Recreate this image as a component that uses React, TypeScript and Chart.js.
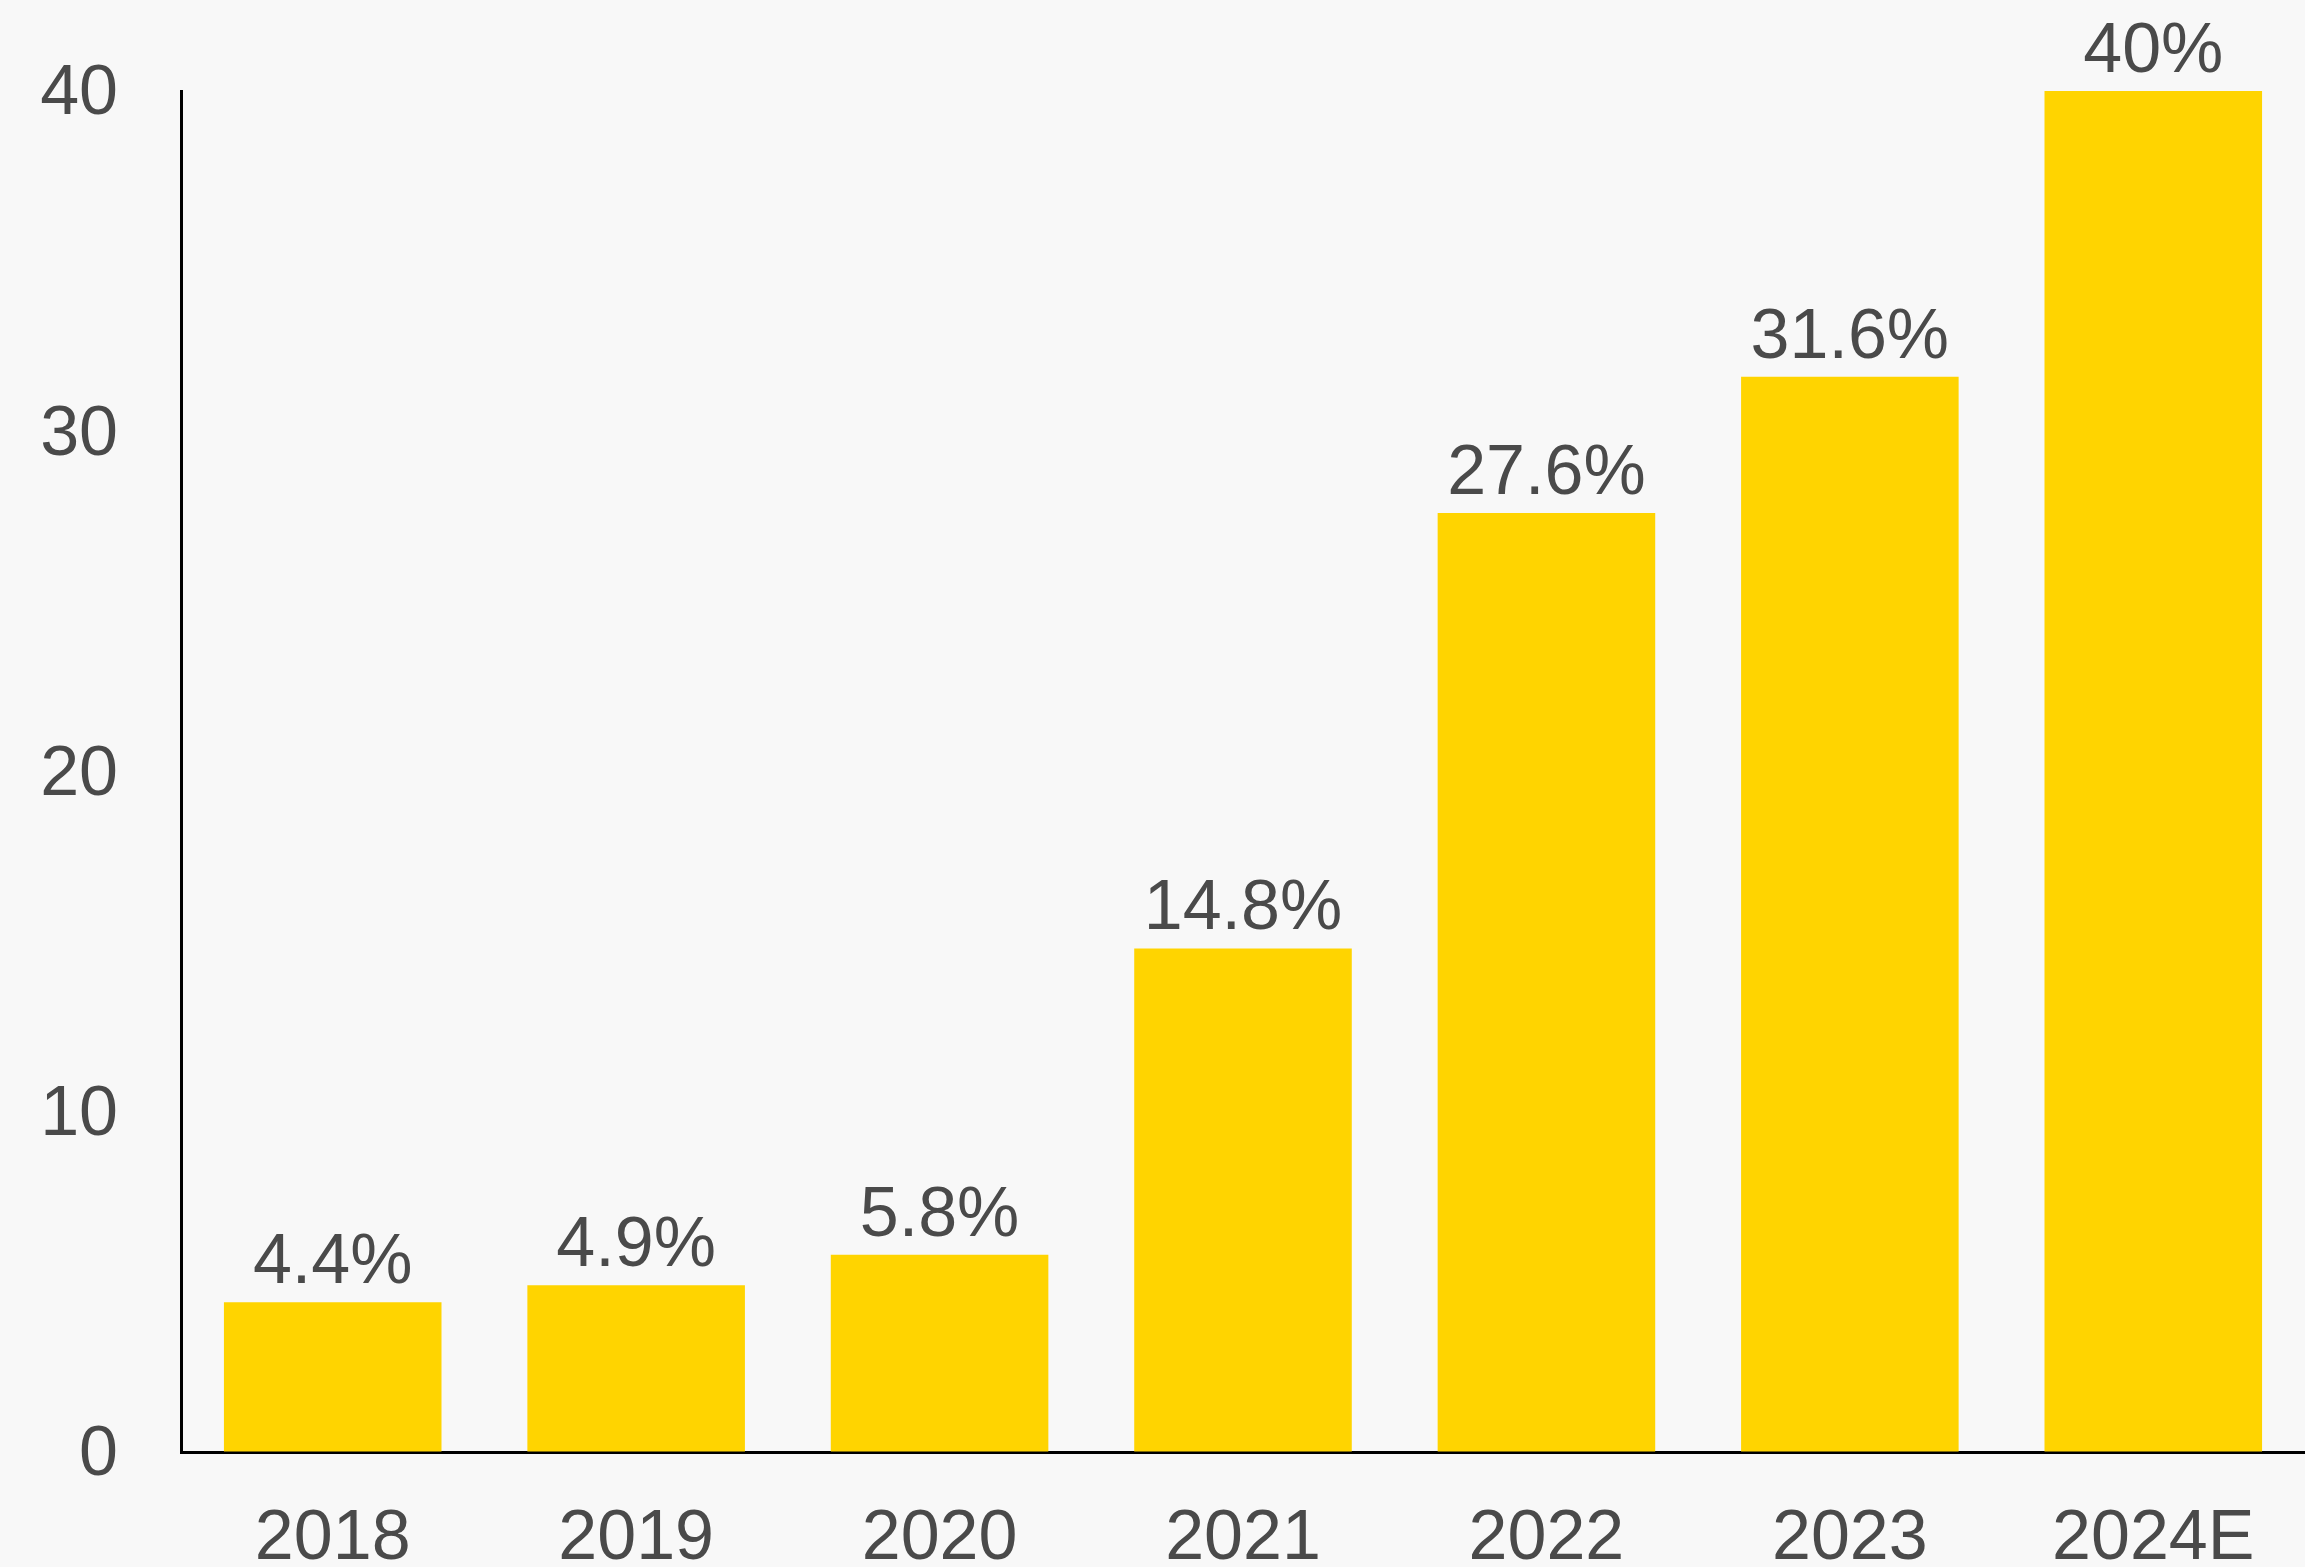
import React, { useEffect, useRef } from "react";
import { Chart, registerables } from "chart.js";

Chart.register(...registerables);

const categories = ["2018", "2019", "2020", "2021", "2022", "2023", "2024E"];
const values = [4.4, 4.9, 5.8, 14.8, 27.6, 31.6, 40];
const valueLabels = ["4.4%", "4.9%", "5.8%", "14.8%", "27.6%", "31.6%", "40%"];
const yTicks = [0, 10, 20, 30, 40];

const W = 2305;
const H = 1567;
const FONT = "'Liberation Sans', Arial, Helvetica, sans-serif";
const TEXT = "#4a4a4a";

const valueLabelPlugin = {
  id: "valueLabels",
  afterDatasetsDraw(chart: any) {
    const ctx = chart.ctx;
    const meta = chart.getDatasetMeta(0);
    ctx.save();
    ctx.font = `70px ${FONT}`;
    ctx.fillStyle = TEXT;
    ctx.textAlign = "center";
    ctx.textBaseline = "alphabetic";
    meta.data.forEach((bar: any, i: number) => {
      ctx.fillText(valueLabels[i], bar.x, bar.y - 19);
    });
    ctx.restore();
  },
};

export default function App() {
  const ref = useRef<HTMLCanvasElement | null>(null);

  useEffect(() => {
    if (!ref.current) return;
    const chart = new Chart(ref.current, {
      type: "bar",
      data: {
        labels: categories,
        datasets: [
          {
            data: values,
            backgroundColor: "#FFD400",
            borderWidth: 0,
            categoryPercentage: 1,
            barPercentage: 0.717,
          },
        ],
      },
      options: {
        responsive: false,
        animation: false,
        devicePixelRatio: 1,
        layout: { padding: { top: 91, left: 0, right: -3, bottom: 0 } },
        plugins: {
          legend: { display: false },
          tooltip: { enabled: false },
        },
        scales: {
          x: {
            grid: { display: false, drawTicks: false },
            border: { display: true, color: "#000", width: 3 },
            ticks: {
              color: TEXT,
              font: { family: FONT, size: 70, lineHeight: 1.2 },
              padding: 46,
              maxRotation: 0,
              autoSkip: false,
            },
            afterFit: (scale: any) => {
              scale.height = 115;
            },
          },
          y: {
            min: 0,
            max: 40,
            grid: {
              display: true,
              drawOnChartArea: false,
              drawTicks: true,
              tickLength: 63,
              color: "rgba(0,0,0,0)",
            },
            border: { display: true, color: "#000", width: 3 },
            afterBuildTicks: (scale: any) => {
              scale.ticks = yTicks.map((v) => ({ value: v }));
            },
            ticks: {
              color: TEXT,
              font: { family: FONT, size: 70 },
              padding: 0,
              labelOffset: 4,
            },
            afterFit: (scale: any) => {
              scale.width = 181;
            },
          },
        },
      },
      plugins: [valueLabelPlugin],
    });
    return () => chart.destroy();
  }, []);

  return (
    <div
      style={{
        position: "fixed",
        left: 0,
        top: 0,
        width: W,
        height: H,
        background: "#f8f8f8",
        overflow: "hidden",
      }}
    >
      <canvas ref={ref} width={W} height={H} style={{ width: W, height: H, display: "block" }} />
    </div>
  );
}
